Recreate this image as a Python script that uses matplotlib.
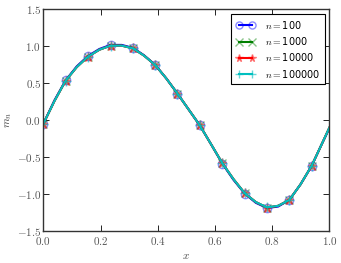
import matplotlib
matplotlib.use("Agg")
import matplotlib.pyplot as plt
from matplotlib.ticker import FuncFormatter

plt.rcParams['mathtext.fontset'] = 'cm'
plt.rcParams['xtick.direction'] = 'in'
plt.rcParams['ytick.direction'] = 'in'
plt.rcParams['xtick.top'] = True
plt.rcParams['ytick.right'] = True

# data
x_vals = [0.0, 0.039, 0.078, 0.117, 0.156, 0.196, 0.235, 0.274, 0.313, 0.352,
          0.391, 0.430, 0.469, 0.508, 0.547, 0.587, 0.626, 0.665, 0.704, 0.743,
          0.782, 0.821, 0.860, 0.899, 0.938, 0.969, 1.0]
m_100 = [-0.05, 0.27, 0.54, 0.73, 0.87, 0.965, 1.02, 1.02, 0.98, 0.88,
         0.75, 0.565, 0.36, 0.145, -0.07, -0.33, -0.59, -0.81, -0.995, -1.12,
         -1.19, -1.17, -1.08, -0.87, -0.62, -0.36, -0.11]
m_1000 = [-0.05, 0.26, 0.535, 0.72, 0.86, 0.955, 1.01, 1.01, 0.974, 0.875,
          0.748, 0.565, 0.36, 0.145, -0.07, -0.33, -0.584, -0.80, -0.99, -1.11,
          -1.185, -1.16, -1.08, -0.87, -0.617, -0.36, -0.10]
m_10000 = [-0.05, 0.26, 0.535, 0.72, 0.86, 0.955, 1.01, 1.01, 0.974, 0.875,
           0.748, 0.565, 0.36, 0.145, -0.07, -0.33, -0.584, -0.80, -0.99, -1.11,
           -1.185, -1.16, -1.08, -0.87, -0.617, -0.36, -0.10]
m_100000 = [-0.05, 0.26, 0.535, 0.72, 0.86, 0.955, 1.01, 1.01, 0.974, 0.875,
            0.748, 0.565, 0.36, 0.145, -0.07, -0.33, -0.584, -0.80, -0.99, -1.11,
            -1.18, -1.16, -1.08, -0.87, -0.617, -0.36, -0.10]
labels = ['100', '1000', '10000', '100000']
x_ticks = [0.0, 0.2, 0.4, 0.6, 0.8, 1.0]
y_ticks = [-1.5, -1.0, -0.5, 0.0, 0.5, 1.0, 1.5]

fig = plt.figure(figsize=(3.41, 2.63), dpi=100)
ax = fig.add_axes([0.127, 0.122, 0.839, 0.842])

mark_idx = list(range(0, 25, 2))
series = [m_100, m_1000, m_10000, m_100000]
styles = [
    dict(color='blue', marker='o', mfc='none', mec=(0, 0, 1, 0.45), ms=6, mew=1.0),
    dict(color='green', marker='x', mec=(0, 0.5, 0, 0.45), ms=6, mew=1.0),
    dict(color='red', marker='*', mfc=(1, 0, 0, 0.45), mec=(1, 0, 0, 0.45), ms=6.5, mew=1.0),
    dict(color='c', marker='+', mec=(0, 0.75, 0.75, 0.6), ms=6.5, mew=1.0),
]
for ys, lab, st in zip(series, labels, styles):
    ax.plot(x_vals, ys, lw=1.5, markevery=mark_idx, label='$n=$' + lab, **st)

ax.set_xlim(0, 1)
ax.set_ylim(-1.5, 1.5)
ax.set_xticks(x_ticks)
ax.set_yticks(y_ticks)
fmt = FuncFormatter(lambda v, p: '$%.1f$' % v)
ax.xaxis.set_major_formatter(fmt)
ax.yaxis.set_major_formatter(fmt)
ax.tick_params(labelsize=8, length=4, width=0.6, colors='black')
ax.tick_params(axis='x', pad=3.2)
ax.tick_params(axis='y', pad=1.5)
for lbl in ax.get_xticklabels() + ax.get_yticklabels():
    lbl.set_color('#555555')
for s in ax.spines.values():
    s.set_linewidth(1.0)
    s.set_color('#333333')

ax.set_xlabel('$x$', fontsize=8, color='#444444', labelpad=2.5)
ax.set_ylabel('$m_n$', fontsize=8, color='#444444', labelpad=2)

leg = ax.legend(loc='upper right', fontsize=7, numpoints=2, fancybox=False,
                framealpha=1, handlelength=2.0, borderpad=0.45, labelspacing=0.45,
                handletextpad=1.0, borderaxespad=0.5, markerscale=0.85)
leg.get_frame().set_edgecolor('black')
leg.get_frame().set_linewidth(0.8)

fig.savefig('out.png', dpi=100, facecolor='white')
